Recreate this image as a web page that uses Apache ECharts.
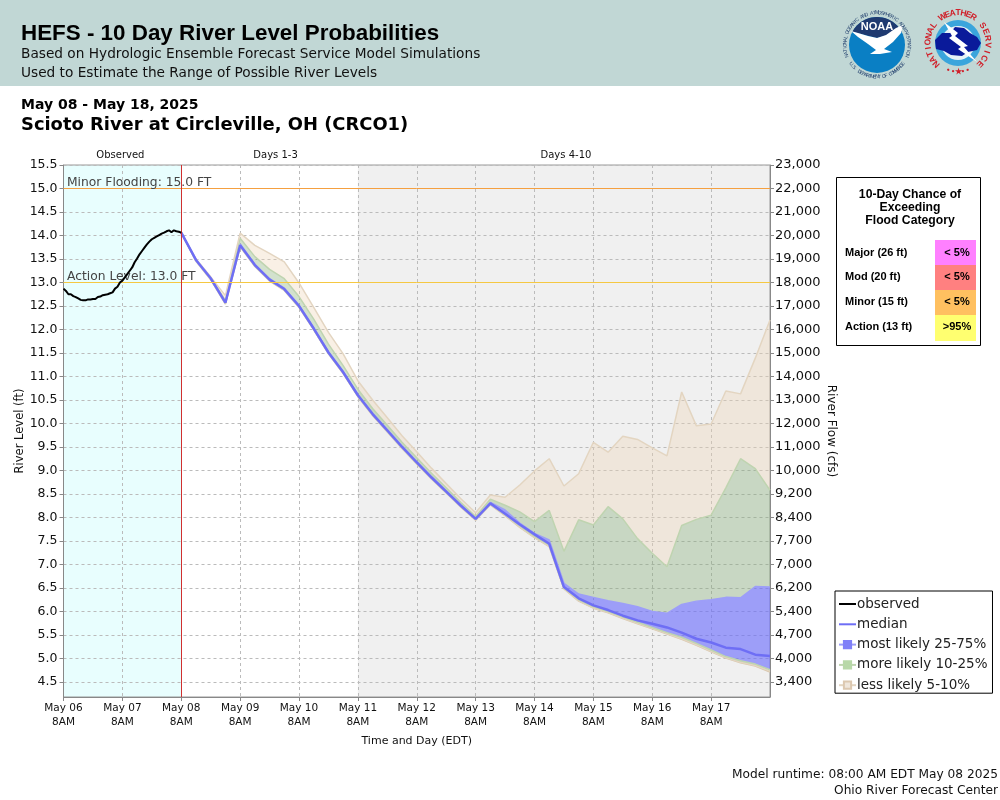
<!DOCTYPE html>
<html>
<head>
<meta charset="utf-8">
<title>HEFS</title>
<script src="https://cdn.jsdelivr.net/npm/echarts@6/dist/echarts.min.js"></script>
<style>
html, body { margin: 0; padding: 0; background: #fff; }
#chart { width: 1000px; height: 800px; }
</style>
</head>
<body>
<div id="chart"></div>
<script>
// river level ticks (ft) and the flow labels that sit next to them
const levelTicks = [15.5, 15, 14.5, 14, 13.5, 13, 12.5, 12, 11.5, 11, 10.5, 10, 9.5, 9, 8.5, 8, 7.5, 7, 6.5, 6, 5.5, 5, 4.5];
const flowLabels = ["23,000", "22,000", "21,000", "20,000", "19,000", "18,000", "17,000", "16,000", "15,000", "14,000", "13,000", "12,000", "11,000", "10,000", "9,200", "8,400", "7,700", "7,000", "6,200", "5,400", "4,700", "4,000", "3,400"];
const dayLabels = ["May 06", "May 07", "May 08", "May 09", "May 10", "May 11", "May 12", "May 13", "May 14", "May 15", "May 16", "May 17"];

// observed: one value per hour from May 06 8AM
const observed = [12.87, 12.82, 12.75, 12.75, 12.71, 12.69, 12.66, 12.63, 12.62, 12.62, 12.64, 12.64, 12.65, 12.65, 12.69, 12.70, 12.73, 12.74, 12.75, 12.77, 12.79, 12.87, 12.91, 13.00, 13.04, 13.11, 13.18, 13.25, 13.32, 13.43, 13.51, 13.60, 13.67, 13.74, 13.81, 13.87, 13.92, 13.95, 13.98, 14.01, 14.04, 14.06, 14.09, 14.11, 14.07, 14.11, 14.09, 14.08, 14.06];

// forecast: one value every 6 hours from May 08 8AM
const median = [14.06, 13.48, 13.09, 12.57, 13.79, 13.37, 13.06, 12.86, 12.50, 12.02, 11.51, 11.09, 10.60, 10.20, 9.85, 9.50, 9.17, 8.85, 8.55, 8.25, 7.97, 8.30, 8.08, 7.85, 7.64, 7.44, 6.52, 6.28, 6.13, 6.03, 5.91, 5.81, 5.74, 5.66, 5.55, 5.42, 5.34, 5.23, 5.20, 5.08, 5.05];
const p95 = [14.06, 13.50, 13.12, 12.72, 14.05, 13.79, 13.62, 13.44, 12.99, 12.47, 11.94, 11.48, 10.91, 10.50, 10.12, 9.74, 9.40, 9.05, 8.72, 8.40, 8.10, 8.48, 8.43, 8.69, 8.99, 9.25, 8.67, 8.93, 9.60, 9.39, 9.73, 9.66, 9.48, 9.31, 10.67, 9.95, 9.99, 10.69, 10.63, 11.39, 12.20];
const p90 = [14.06, 13.49, 13.10, 12.62, 13.94, 13.55, 13.28, 13.08, 12.70, 12.22, 11.69, 11.23, 10.73, 10.32, 9.96, 9.60, 9.27, 8.94, 8.63, 8.32, 8.02, 8.39, 8.26, 8.12, 7.91, 8.15, 7.28, 7.95, 7.84, 8.23, 7.97, 7.55, 7.24, 6.95, 7.83, 7.96, 8.05, 8.63, 9.25, 9.04, 8.58];
const p75 = [14.06, 13.48, 13.09, 12.58, 13.82, 13.39, 13.08, 12.88, 12.52, 12.04, 11.53, 11.11, 10.62, 10.22, 9.87, 9.52, 9.19, 8.87, 8.57, 8.27, 7.99, 8.32, 8.16, 7.88, 7.66, 7.52, 6.60, 6.37, 6.30, 6.23, 6.17, 6.10, 6.00, 5.96, 6.15, 6.22, 6.25, 6.30, 6.29, 6.53, 6.52];
const p25 = [14.06, 13.47, 13.08, 12.56, 13.78, 13.36, 13.05, 12.85, 12.49, 12.01, 11.50, 11.08, 10.59, 10.19, 9.84, 9.49, 9.16, 8.84, 8.54, 8.24, 7.96, 8.29, 8.06, 7.82, 7.60, 7.41, 6.50, 6.25, 6.10, 6.00, 5.88, 5.77, 5.66, 5.55, 5.45, 5.32, 5.18, 5.04, 4.95, 4.88, 4.76];
const p10 = [14.06, 13.46, 13.07, 12.55, 13.77, 13.35, 13.04, 12.84, 12.48, 12.00, 11.49, 11.07, 10.58, 10.18, 9.83, 9.48, 9.15, 8.83, 8.53, 8.23, 7.95, 8.28, 8.05, 7.80, 7.58, 7.39, 6.49, 6.23, 6.08, 5.98, 5.86, 5.75, 5.64, 5.53, 5.42, 5.29, 5.15, 5.02, 4.92, 4.85, 4.73];
const p5 = [14.06, 13.45, 13.06, 12.54, 13.76, 13.34, 13.03, 12.83, 12.47, 11.99, 11.48, 11.06, 10.57, 10.17, 9.82, 9.47, 9.14, 8.82, 8.52, 8.22, 7.94, 8.27, 8.04, 7.79, 7.57, 7.38, 6.48, 6.22, 6.07, 5.97, 5.85, 5.74, 5.63, 5.52, 5.41, 5.28, 5.14, 5.01, 4.91, 4.84, 4.71];

const floodRows = ["Major (26 ft)", "Mod (20 ft)", "Minor (15 ft)", "Action (13 ft)"];
const floodChance = ["< 5%", "< 5%", "< 5%", ">95%"];
const floodColors = ["#FF80FF", "#FF8080", "#FFC060", "#FFFF70"];

const SANS = "DejaVu Sans";
const ARIAL = "Liberation Sans";

const chart = echarts.init(document.getElementById("chart"));

// time axis only puts daily ticks at midnight, so 8AM May 06 is mapped onto midnight
const HOUR = 3600000;
const START = Date.UTC(2025, 4, 6);
const at = h => START + h * HOUR;

const obsData = observed.map((v, i) => [at(i), v]);
const fcTime = i => at(48 + i * 6);
const lineData = arr => arr.map((v, i) => [fcTime(i), v]);
// each band is stacked on the one under it
const diffData = (hi, lo) => hi.map((v, i) => [fcTime(i), +(v - lo[i]).toFixed(2)]);

const LESS = "less likely 5-10%";
const MORE = "more likely 10-25%";
const MOST = "most likely 25-75%";

function band(name, data, color, fill, opacity, swatch, swatchEdge) {
    return {
        name: name,
        type: "line",
        stack: "hefs",
        data: data,
        symbol: "rect",
        showSymbol: false,
        silent: true,
        z: 2,
        itemStyle: { color: swatch, borderColor: swatchEdge, borderWidth: 1, opacity: 1 },
        lineStyle: { color: color, width: 1.5 },
        areaStyle: { color: fill, opacity: opacity }
    };
}

// ---- drawn extras: header, logos, flood table ----
const gfx = [];
function text(str, x, y, size, weight, font, color, align) {
    gfx.push({
        type: "text", x: x, y: y, silent: true,
        style: { text: str, fontSize: size, fontWeight: weight || "normal", fontFamily: font || SANS, fill: color || "#000", align: align || "left", verticalAlign: "middle" }
    });
}
function rect(x, y, w, h, fill, stroke) {
    gfx.push({ type: "rect", silent: true, shape: { x: x, y: y, width: w, height: h }, style: { fill: fill, stroke: stroke || null, lineWidth: 1 } });
}
function circle(cx, cy, r, fill) {
    gfx.push({ type: "circle", silent: true, shape: { cx: cx, cy: cy, r: r }, style: { fill: fill } });
}
function poly(points, fill) {
    gfx.push({ type: "polygon", silent: true, shape: { points: points }, style: { fill: fill } });
}
// letters around a circle, degrees clockwise from 12 o'clock; going backwards keeps them upright at the bottom
function ringText(str, cx, cy, r, startDeg, endDeg, size, color, weight) {
    const n = str.length;
    for (let i = 0; i < n; i++) {
        const deg = startDeg + (endDeg - startDeg) * (i + 0.5) / n;
        const a = deg * Math.PI / 180;
        const flip = endDeg < startDeg ? Math.PI : 0;
        gfx.push({
            type: "text", silent: true, x: cx + r * Math.sin(a), y: cy - r * Math.cos(a), rotation: -a - flip,
            style: { text: str[i], fontSize: size, fontFamily: ARIAL, fontWeight: weight || "normal", fill: color, align: "center", verticalAlign: "middle" }
        });
    }
}

rect(0, 0, 1000, 86, "#C1D7D5");
text("HEFS - 10 Day River Level Probabilities", 21, 34, 22.4, "bold", ARIAL);
text("Based on Hydrologic Ensemble Forecast Service Model Simulations", 21, 54, 13.7, "normal", SANS, "#111");
text("Used to Estimate the Range of Possible River Levels", 21, 73, 13.7, "normal", SANS, "#111");
text("May 08 - May 18, 2025", 21, 105, 14, "bold", SANS);
text("Scioto River at Circleville, OH (CRCO1)", 21, 125, 17.9, "bold", SANS);

// NOAA logo
circle(877, 45, 28, "#0A7FC4");
const navy = [];
for (let d = -62; d <= 62; d += 4) {
    const a = d * Math.PI / 180;
    navy.push([877 + 28 * Math.sin(a), 45 - 28 * Math.cos(a)]);
}
navy.push([877, 38]);
poly(navy, "#1F3A70");
poly([[851, 31], [858, 33], [868, 36], [877, 38], [886, 35], [896, 28], [903, 25], [901, 33], [893, 42], [884, 49], [892, 52], [880, 54], [870, 54], [876, 50], [868, 44], [858, 37]], "#fff");
text("NOAA", 877, 27, 11, "bold", ARIAL, "#fff", "center");
ringText("NATIONAL OCEANIC AND ATMOSPHERIC ADMINISTRATION", 877, 45, 32, -112, 112, 5, "#23406e");
ringText("U.S. DEPARTMENT OF COMMERCE", 877, 45, 32, 236, 124, 5, "#23406e");

// NWS logo
circle(958, 43, 23, "#3AA5DC");
circle(958, 43, 17, "#E6F2F6");
poly([[935, 40], [942, 33], [950, 33], [955, 27], [964, 28], [970, 33], [977, 37], [981, 43], [977, 50], [968, 52], [962, 56], [951, 55], [944, 51], [936, 49]], "#0A1A9A");
poly([[944, 22], [958, 33], [955, 36], [968, 46], [964, 47], [977, 62], [958, 49], [961, 47], [949, 38], [952, 36]], "#fff");
ringText("NATIONAL", 958, 43, 30, -140, -48, 8.5, "#D0202A", "bold");
ringText("WEATHER", 958, 43, 30, -36, 36, 8.5, "#D0202A", "bold");
ringText("SERVICE", 958, 43, 30, 48, 140, 8.5, "#D0202A", "bold");
ringText("\u2022\u2022\u2605\u2022\u2022", 958, 43, 29, 205, 155, 8, "#D0202A", "bold");

// flood category table
rect(836.5, 177.5, 144, 168, "#fff", "#000");
text("10-Day Chance of", 910, 195, 12.2, "bold", ARIAL, "#000", "center");
text("Exceeding", 910, 208, 12.2, "bold", ARIAL, "#000", "center");
text("Flood Category", 910, 221, 12.2, "bold", ARIAL, "#000", "center");
floodRows.forEach((row, i) => {
    const y = 240 + i * 25;
    rect(935, y, 41, i === 3 ? 26 : 25, floodColors[i]);
    text(row, 845, y + 12.5 - i * 0.2, 11, "bold", ARIAL);
    text(floodChance[i], 957, y + 12.5 - i * 0.2, 11, "bold", ARIAL, "#000", "center");
});

text("Model runtime: 08:00 AM EDT May 08 2025", 998, 775, 12.2, "normal", SANS, "#111", "right");
text("Ohio River Forecast Center", 998, 791, 12.2, "normal", SANS, "#111", "right");

const zoneLabel = (t, dx) => ({ show: true, position: "top", distance: 5, offset: [dx, 0], formatter: t, fontFamily: SANS, fontSize: 10, color: "#111" });
const floodLabel = t => ({ show: true, position: "insideStartTop", formatter: t, fontFamily: SANS, fontSize: 12.3, color: "#444", distance: 0, offset: [3.5, 0.5] });

chart.setOption({
    animation: false,
    useUTC: true,
    backgroundColor: "#fff",
    grid: { left: 63.5, top: 165, width: 706.5, height: 532, show: true, outerBoundsMode: "none", borderColor: "#999", borderWidth: 1, backgroundColor: "transparent" },
    legend: {
        left: 835, top: 591,
        orient: "vertical",
        selectedMode: false,
        data: [
            { name: "observed", itemStyle: { opacity: 0 } },
            { name: "median", itemStyle: { opacity: 0 } },
            { name: MOST }, { name: MORE }, { name: LESS }
        ],
        padding: [6, 5, 1, 3],
        itemGap: 6.3,
        itemWidth: 17,
        itemHeight: 9,
        borderColor: "#000",
        borderWidth: 1,
        backgroundColor: "#fff",
        textStyle: { fontFamily: SANS, fontSize: 13.5, color: "#222", padding: [0, 0, 0, -4] }
    },
    xAxis: {
        type: "time",
        min: at(0),
        max: at(288),
        minInterval: 24 * HOUR,
        maxInterval: 24 * HOUR,
        name: "Time and Day (EDT)",
        nameLocation: "middle",
        nameGap: 39,
        nameMoveOverlap: false,
        nameTextStyle: { fontFamily: SANS, fontSize: 11, color: "#111" },
        axisLine: { lineStyle: { color: "#888" } },
        axisTick: { lineStyle: { color: "#888" }, length: 4 },
        axisLabel: {
            fontFamily: SANS, fontSize: 10.5, color: "#111", margin: 4, lineHeight: 14,
            hideOverlap: false,
            interval: 0,
            formatter: v => {
                const d = dayLabels[Math.round((v - START) / (24 * HOUR))];
                return d ? d + "\n8AM" : "";
            }
        },
        splitLine: { show: true, lineStyle: { color: "#BBB", type: [3, 3] } }
    },
    yAxis: [
        {
            type: "value",
            min: 4.18,
            max: 15.5,
            name: "River Level (ft)",
            nameLocation: "middle",
            nameGap: 37,
            nameMoveOverlap: false,
            nameTextStyle: { fontFamily: SANS, fontSize: 11.5, color: "#111" },
            axisLine: { show: true, lineStyle: { color: "#888" } },
            axisTick: { show: true, length: 4, lineStyle: { color: "#888" }, customValues: levelTicks },
            axisLabel: { fontFamily: SANS, fontSize: 12.5, color: "#111", margin: 6, padding: [4, 0, 0, 0], customValues: levelTicks, formatter: v => v.toFixed(1) },
            splitLine: { show: true, lineStyle: { color: "#BBB", type: [3, 3] } }
        },
        {
            type: "value",
            position: "right",
            min: 4.18,
            max: 15.5,
            name: "River Flow (cfs)",
            nameLocation: "middle",
            nameGap: 55,
            nameMoveOverlap: false,
            nameRotate: -90,
            nameTextStyle: { fontFamily: SANS, fontSize: 12, color: "#111" },
            axisLine: { show: true, lineStyle: { color: "#888" } },
            axisTick: { show: true, length: 4, lineStyle: { color: "#888" }, customValues: levelTicks },
            axisLabel: { fontFamily: SANS, fontSize: 13, color: "#111", margin: 5, padding: [4, 0, 0, 0], customValues: levelTicks, formatter: v => flowLabels[levelTicks.indexOf(v)] },
            splitLine: { show: false }
        }
    ],
    series: [
        {
            name: "zones",
            type: "line",
            data: [],
            z: -1,
            silent: true,
            markArea: {
                silent: true,
                z: -1,
                data: [
                    [{ xAxis: at(0), itemStyle: { color: "#E8FEFE" }, label: zoneLabel("Observed", -2) }, { xAxis: at(48) }],
                    [{ xAxis: at(48), itemStyle: { color: "#FFFFFF" }, label: zoneLabel("Days 1-3", 6) }, { xAxis: at(120) }],
                    [{ xAxis: at(120), itemStyle: { color: "#F0F0F0" }, label: zoneLabel("Days 4-10", 2) }, { xAxis: at(288) }]
                ]
            }
        },
        {
            name: "base",
            type: "line",
            stack: "hefs",
            data: lineData(p5),
            symbol: "none",
            silent: true,
            z: 2,
            lineStyle: { color: "#D9C8AE", width: 1.5 }
        },
        band(LESS, diffData(p10, p5), "#E3D5C1", "rgb(237,211,180)", 0.35, "#EFE6DB", "#DCC8B0"),
        band(MORE, diffData(p25, p10), "#BFD4B0", "rgb(126,169,111)", 0.35, "#B8D8A8", "#B8D8A8"),
        band(MOST, diffData(p75, p25), "#9D9EF8", "rgb(102,103,253)", 0.6, "#8080F8", "#8080F8"),
        band(MORE, diffData(p90, p75), "#BFD4B0", "rgb(126,169,111)", 0.35, "#B8D8A8", "#B8D8A8"),
        band(LESS, diffData(p95, p90), "#E3D5C1", "rgb(237,211,180)", 0.35, "#EFE6DB", "#DCC8B0"),
        {
            name: "median",
            type: "line",
            data: lineData(median),
            symbol: "none",
            silent: true,
            z: 4,
            lineStyle: { color: "#6E6EF5", width: 2.5 },
            itemStyle: { color: "#6E6EF5" }
        },
        {
            name: "observed",
            type: "line",
            data: obsData,
            symbol: "none",
            silent: true,
            z: 5,
            lineStyle: { color: "#000", width: 2 },
            itemStyle: { color: "#000" },
            markLine: {
                silent: true,
                symbol: "none",
                animation: false,
                data: [
                    { yAxis: 15, lineStyle: { color: "#F5A040", width: 1, type: "solid" }, label: floodLabel("Minor Flooding: 15.0 FT") },
                    { yAxis: 13, lineStyle: { color: "#F5C842", width: 1, type: "solid" }, label: floodLabel("Action Level: 13.0 FT") },
                    { xAxis: at(48), lineStyle: { color: "#D03030", width: 1, type: "solid" }, label: { show: false } }
                ]
            }
        }
    ],
    graphic: gfx
});
</script>
</body>
</html>
